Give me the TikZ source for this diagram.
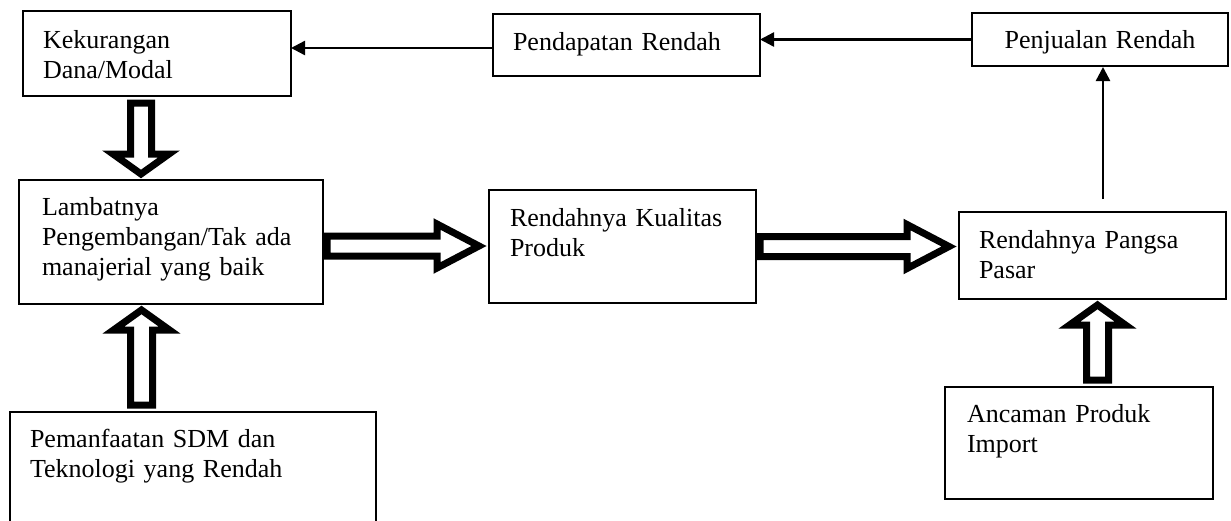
\documentclass[tikz,border=0pt]{standalone}
\usepackage{fontspec}
\setmainfont{Liberation Serif}
\usetikzlibrary{arrows.meta,calc}
\tikzset{
	box/.style={draw, line width=0.9pt, anchor=north west, inner ysep=0pt, outer sep=0pt, align=left, text height=17.5pt, font=\fontsize{13}{15}\selectfont},
	link/.style={line width=1.2pt, -{Triangle[length=7pt,width=7pt]}},
	fat/.style={draw, line width=3.5pt, line join=miter, fill=white},
	fatdown/.style={fat, to path={let \p1=(\tikztostart), \p2=(\tikztotarget) in
		(\x1-5.25pt,\y1-3.5pt) -- (\x1-5.25pt,\y2+13pt) -- (\x1-14pt,\y2+13pt) -- (\x1,\y2+3pt)
		-- (\x1+14pt,\y2+13pt) -- (\x1+5.25pt,\y2+13pt) -- (\x1+5.25pt,\y1-3.5pt) -- cycle}},
	fatup/.style={fat, to path={let \p1=(\tikztostart), \p2=(\tikztotarget) in
		(\x1-5.5pt,\y1+3.5pt) -- (\x1-5.5pt,\y2-13pt) -- (\x1-14pt,\y2-13pt) -- (\x1,\y2-3pt)
		-- (\x1+14pt,\y2-13pt) -- (\x1+5.5pt,\y2-13pt) -- (\x1+5.5pt,\y1+3.5pt) -- cycle}},
	fatright/.style={fat, to path={let \p1=(\tikztostart), \p2=(\tikztotarget) in
		(\x1+2pt,\y1+5pt) -- (\x2-26pt,\y1+5pt) -- (\x2-26pt,\y1+11pt) -- (\x2-5pt,\y1)
		-- (\x2-26pt,\y1-11pt) -- (\x2-26pt,\y1-5pt) -- (\x1+2pt,\y1-5pt) -- cycle}}
}
\begin{document}
\begin{tikzpicture}[x=0.5pt,y=-0.5pt]
	\useasboundingbox (0,0) rectangle (1231,520);
	\node[box, text width=114pt, inner xsep=10pt, text height=18.5pt, text depth=24pt] (dana) at (23,11) {Kekurangan\\Dana/Modal};
	\node[box, text width=113.5pt, inner xsep=10pt, text height=18pt, text depth=13pt] (pendapatan) at (493,14) {Pendapatan Rendah};
	\node[box, align=center, text width=108pt, inner xsep=10pt, text depth=9pt] (penjualan) at (972,13) {Penjualan Rendah};
	\node[box, text width=129pt, inner xsep=11.5pt, text depth=44.5pt] (lambat) at (19,180) {Lambatnya\\Pengembangan/Tak ada\\manajerial yang baik};
	\node[box, text width=112.5pt, inner xsep=10.5pt, text height=18pt, text depth=38.5pt] (kualitas) at (489,190) {Rendahnya Kualitas\\Produk};
	\node[box, text width=113.5pt, inner xsep=10pt, text height=18pt, text depth=25.5pt] (pangsa) at (959,212) {Rendahnya Pangsa\\Pasar};
	\node[box, text width=112pt, inner xsep=11pt, text depth=38.5pt] (impor) at (945,387) {Ancaman Produk\\Import};
	\node[box, text width=163pt, inner xsep=10pt, text depth=41.5pt] (sdm) at (10,412) {Pemanfaatan SDM dan\\Teknologi yang Rendah};

	\draw[link] (penjualan.west) -- (penjualan.west -| pendapatan.east);
	\draw[link] ($(pendapatan.west)+(0,3)$) -- ($(pendapatan.west -| dana.east)+(0,3)$);
	\draw[link] ($(pangsa.north -| penjualan.south)+(3,-13)$) -- ($(penjualan.south)+(3,1)$);

	\draw[fatdown] ([xshift=-8pt]dana.south) to (lambat.north);
	\draw[fatup] ([xshift=-25.75pt]sdm.north) to (lambat.south);
	\draw[fatup] ([xshift=9.25pt]impor.north) to (pangsa.south);
	\draw[fatright] ([yshift=-2pt]lambat.east) to (kualitas.west);
	\draw[fatright] (kualitas.east) to (pangsa.west);
\end{tikzpicture}
\end{document}
